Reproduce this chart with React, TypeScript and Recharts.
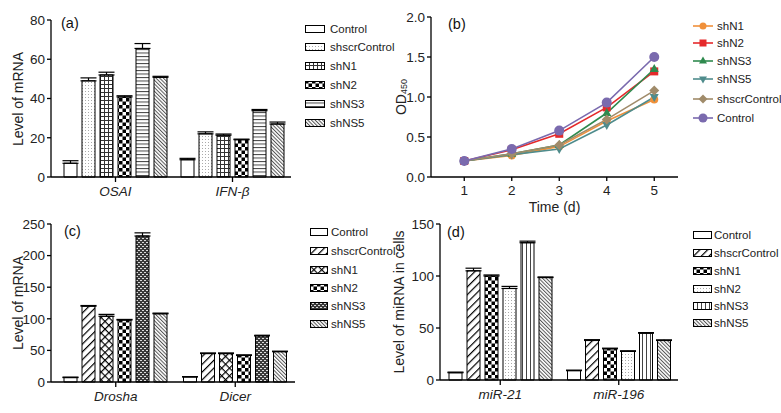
import React from 'react'
import { BarChart, Bar, LineChart, Line, XAxis, YAxis, ErrorBar } from 'recharts'

const FONT = 'Arial, "Liberation Sans", Helvetica, sans-serif'

// (a) mRNA levels
const genesA = ['OSAI', 'IFN-β']
const groupsA = ['Control', 'shscrControl', 'shN1', 'shN2', 'shNS3', 'shNS5']
const levelsA = [[7, 8.8], [49, 22], [52, 21.3], [40.8, 19], [65.5, 33.8], [50.8, 27]]
const errorsA = [[1.3, 0.7], [1.5, 1], [1.4, 0.6], [0.6, 0.3], [2.5, 0.6], [0.5, 1]]

// (b) growth curve
const days = [1, 2, 3, 4, 5]
const linesB = ['shN1', 'shN2', 'shNS3', 'shNS5', 'shscrControl', 'Control']
const odB = [
  [0.2, 0.27, 0.38, 0.7, 0.97],
  [0.2, 0.34, 0.54, 0.87, 1.32],
  [0.2, 0.29, 0.4, 0.8, 1.35],
  [0.2, 0.28, 0.35, 0.65, 1.0],
  [0.2, 0.29, 0.4, 0.72, 1.08],
  [0.2, 0.35, 0.58, 0.93, 1.5],
]

// (c) Drosha / Dicer
const genesC = ['Drosha', 'Dicer']
const groupsC = ['Control', 'shscrControl', 'shN1', 'shN2', 'shNS3', 'shNS5']
const levelsC = [[7, 8], [120, 45], [104, 45], [98, 42], [231, 73], [108, 48]]
const errorsC = [[0.8, 0.5], [1, 1], [3, 1], [1, 1], [5, 1], [1, 0.8]]

// (d) miRNA levels
const mirD = ['miR-21', 'miR-196']
const groupsD = ['Control', 'shscrControl', 'shN1', 'shN2', 'shNS3', 'shNS5']
const levelsD = [[7, 9], [105, 38], [100, 30], [88, 27.5], [132, 45], [98.5, 38]]
const errorsD = [[0.6, 0.5], [2.5, 0.8], [1, 0.6], [2, 0.6], [1.5, 0.6], [0.6, 0.6]]

const fillsA = ['#fff', 'url(#dots)', 'url(#grid)', 'url(#checker)', 'url(#hlines)', 'url(#bdiag)']
const fillsC = ['#fff', 'url(#fdiag)', 'url(#cross)', 'url(#checker)', 'url(#brick)', 'url(#bdiag)']
const fillsD = ['#fff', 'url(#fdiag)', 'url(#checker)', 'url(#dots)', 'url(#vlines)', 'url(#bdiag)']
const colorsB = ['#f0903a', '#e5292b', '#2f8a4e', '#4f8c8c', '#a08b6a', '#7a6aae']
const shapesB = ['circle', 'square', 'triangle', 'down', 'diamond', 'circle']

const toRows = (cats: string[], vals: number[][], errs: number[][]) =>
  cats.map((c, i) => {
    const row: any = { name: c }
    vals.forEach((v, k) => {
      row['v' + k] = v[i]
      row['e' + k] = [0, errs[k][i]]
    })
    return row
  })

const dataA = toRows(genesA, levelsA, errorsA)
const dataC = toRows(genesC, levelsC, errorsC)
const dataD = toRows(mirD, levelsD, errorsD)
const dataB = days.map((d, i) => {
  const row: any = { day: d }
  odB.forEach((s, k) => (row['s' + k] = s[i]))
  return row
})

function Patterns() {
  return (
    <svg width={0} height={0} style={{ position: 'absolute' }}>
      <defs>
        <pattern id="dots" width="3" height="3" patternUnits="userSpaceOnUse">
          <rect width="3" height="3" fill="#fff" />
          <rect x="1" y="1" width="1" height="1" fill="#aaa" />
        </pattern>
        <pattern id="grid" width="4" height="4" patternUnits="userSpaceOnUse">
          <rect width="4" height="4" fill="#fff" />
          <path d="M0 0.5H4M0.5 0V4" stroke="#333" strokeWidth="1" />
        </pattern>
        <pattern id="checker" width="7" height="7" patternUnits="userSpaceOnUse">
          <rect width="7" height="7" fill="#fff" />
          <rect width="3.5" height="3.5" fill="#000" />
          <rect x="3.5" y="3.5" width="3.5" height="3.5" fill="#000" />
        </pattern>
        <pattern id="hlines" width="4" height="3.5" patternUnits="userSpaceOnUse">
          <rect width="4" height="3.5" fill="#fff" />
          <path d="M0 0.5H4" stroke="#444" strokeWidth="1" />
        </pattern>
        <pattern id="vlines" width="4" height="4" patternUnits="userSpaceOnUse">
          <rect width="4" height="4" fill="#fff" />
          <path d="M0.5 0V4" stroke="#444" strokeWidth="1" />
        </pattern>
        <pattern id="bdiag" width="2.6" height="4" patternUnits="userSpaceOnUse" patternTransform="rotate(-45)">
          <rect width="2.6" height="4" fill="#fff" />
          <path d="M0.5 0V4" stroke="#555" strokeWidth="1" />
        </pattern>
        <pattern id="fdiag" width="5.5" height="6" patternUnits="userSpaceOnUse" patternTransform="rotate(45)">
          <rect width="5.5" height="6" fill="#fff" />
          <path d="M0.6 0V6" stroke="#000" strokeWidth="1.2" />
        </pattern>
        <pattern id="cross" width="5.5" height="5.5" patternUnits="userSpaceOnUse" patternTransform="rotate(45)">
          <rect width="5.5" height="5.5" fill="#fff" />
          <path d="M0.6 0V5.5M0 0.6H5.5" stroke="#000" strokeWidth="1.2" />
        </pattern>
        <pattern id="brick" width="4" height="4" patternUnits="userSpaceOnUse">
          <rect width="4" height="4" fill="#3a3a3a" />
          <rect x="0" y="0" width="2" height="1" fill="#ddd" />
          <rect x="2" y="2" width="2" height="1" fill="#ddd" />
        </pattern>
      </defs>
    </svg>
  )
}

function Marker({ cx, cy, shape, color, r = 4 }: any) {
  if (cx == null || cy == null) return null
  if (shape === 'square') return <rect x={cx - r} y={cy - r} width={r * 2} height={r * 2} fill={color} />
  if (shape === 'triangle')
    return <polygon points={`${cx},${cy - r - 1} ${cx + r + 0.5},${cy + r - 1} ${cx - r - 0.5},${cy + r - 1}`} fill={color} />
  if (shape === 'down')
    return <polygon points={`${cx},${cy + r + 1} ${cx + r + 0.5},${cy - r + 1} ${cx - r - 0.5},${cy - r + 1}`} fill={color} />
  if (shape === 'diamond')
    return <polygon points={`${cx},${cy - r - 1} ${cx + r + 1},${cy} ${cx},${cy + r + 1} ${cx - r - 1},${cy}`} fill={color} />
  return <circle cx={cx} cy={cy} r={r} fill={color} />
}

const axisStyle = { stroke: '#000', strokeWidth: 1.3 }
const tickStyle = { fontSize: 13.5, fill: '#222', fontFamily: FONT }
const catTick = { fontSize: 13.5, fill: '#222', fontFamily: FONT, fontStyle: 'italic' }

function SwatchLegend({ left, tops, names, fills, w = 20, textLeft }: any) {
  return (
    <>
      {names.map((n: string, i: number) => (
        <div key={n} style={{ position: 'absolute', left, top: tops[i] - 6, height: 12, display: 'flex', alignItems: 'center' }}>
          <svg width={w + 1} height={10} style={{ display: 'block' }}>
            <rect x={0.5} y={1.5} width={w - 1} height={7} fill={fills[i]} stroke="#000" strokeWidth={1} />
          </svg>
          <span style={{ marginLeft: textLeft - left - w - 1, fontSize: 11.5, fontFamily: FONT, color: '#222' }}>{n}</span>
        </div>
      ))}
    </>
  )
}

function PanelTag({ left, top, text }: any) {
  return <div style={{ position: 'absolute', left, top: top - 9, fontSize: 14.5, fontFamily: FONT, color: '#111' }}>{text}</div>
}

function Bars({ fills }: { fills: string[] }) {
  return (
    <>
      {fills.map((f, k) => (
        <Bar key={k} dataKey={'v' + k} fill={f} stroke="#000" strokeWidth={1} isAnimationActive={false}>
          <ErrorBar dataKey={'e' + k} width={8} stroke="#000" strokeWidth={1.2} direction="y" />
        </Bar>
      ))}
    </>
  )
}

function YTitles() {
  const items = [
    { x: 18, y: 99, t: 'Level of mRNA' },
    { x: 18, y: 303, t: 'Level of mRNA' },
    { x: 399, y: 302, t: 'Level of miRNA in cells' },
  ]
  return (
    <svg width={781} height={413} style={{ position: 'absolute', left: 0, top: 0, pointerEvents: 'none' }}>
      {items.map((it, i) => (
        <text key={i} x={it.x} y={it.y} transform={`rotate(-90 ${it.x} ${it.y})`} textAnchor="middle" dominantBaseline="central"
          fontSize={14} fill="#222" fontFamily={FONT}>
          {it.t}
        </text>
      ))}
      <text x={401} y={97} transform="rotate(-90 401 97)" textAnchor="middle" dominantBaseline="central" fontSize={14} fill="#222" fontFamily={FONT}>
        OD<tspan fontSize={9} dy={3}>450</tspan>
      </text>
    </svg>
  )
}

export default function App() {
  return (
    <div style={{ position: 'absolute', left: 0, top: 0, width: 781, height: 413, background: '#fff', fontFamily: FONT }}>
      <Patterns />

      {/* (a) */}
      <div style={{ position: 'absolute', left: 0, top: 0 }}>
        <BarChart width={300} height={205} data={dataA} margin={{ top: 20, right: 9, left: 0, bottom: 0 }} barSize={13} barGap={5}>
          <XAxis dataKey="name" height={28} padding={{ left: 6, right: 0 }} axisLine={axisStyle} tickLine={axisStyle} tickSize={5} tickMargin={4} tick={catTick} />
          <YAxis width={51} domain={[0, 80]} ticks={[0, 20, 40, 60, 80]} axisLine={axisStyle} tickLine={axisStyle} tickSize={4} tickMargin={2} tick={tickStyle} />
          {Bars({ fills: fillsA })}
        </BarChart>
      </div>
      <PanelTag left={61} top={24} text="(a)" />
      <SwatchLegend left={305} textLeft={330} tops={[29, 47, 66, 85, 104, 123]} names={groupsA} fills={fillsA} />

      {/* (b) */}
      <div style={{ position: 'absolute', left: 390, top: 0 }}>
        <LineChart width={300} height={215} data={dataB} margin={{ top: 17, right: 12, left: 0, bottom: 0 }}>
          <XAxis dataKey="day" type="number" domain={[0.3, 5.5]} ticks={days} height={38} axisLine={axisStyle} tickLine={axisStyle} tickSize={4} tickMargin={4} tick={tickStyle}
            label={{ value: 'Time (d)', position: 'insideBottom', offset: 3, fontSize: 14, fill: '#222', fontFamily: FONT }} />
          <YAxis width={41} domain={[0, 2]} ticks={[0, 0.5, 1, 1.5, 2]} tickFormatter={(v: number) => v.toFixed(1)} axisLine={axisStyle} tickLine={axisStyle} tickSize={4} tickMargin={2} tick={tickStyle} />
          {linesB.map((n, k) => (
            <Line key={n} dataKey={'s' + k} stroke={colorsB[k]} strokeWidth={1.6} isAnimationActive={false}
              dot={(p: any) => <Marker key={n + p.index} cx={p.cx} cy={p.cy} shape={shapesB[k]} color={colorsB[k]} r={n === 'Control' ? 5 : 4} />} />
          ))}
        </LineChart>
      </div>
      <PanelTag left={448} top={25} text="(b)" />
      {linesB.map((n, k) => {
        const tops = [26, 43, 61, 79, 99, 118]
        return (
          <div key={n} style={{ position: 'absolute', left: 692, top: tops[k] - 6, height: 12, display: 'flex', alignItems: 'center' }}>
            <svg width={22} height={12} style={{ display: 'block' }}>
              <line x1={1} x2={21} y1={6} y2={6} stroke={colorsB[k]} strokeWidth={1.6} />
              <Marker cx={11} cy={6} shape={shapesB[k]} color={colorsB[k]} r={n === 'Control' ? 4.5 : 3.5} />
            </svg>
            <span style={{ marginLeft: 3, fontSize: 11.5, fontFamily: FONT, color: '#222' }}>{n}</span>
          </div>
        )
      })}

      {/* (c) */}
      <div style={{ position: 'absolute', left: 0, top: 200 }}>
        <BarChart width={306} height={210} data={dataC} margin={{ top: 24, right: 11, left: 0, bottom: 0 }} barSize={13} barGap={5}>
          <XAxis dataKey="name" height={28} padding={{ left: 5, right: 0 }} axisLine={axisStyle} tickLine={axisStyle} tickSize={5} tickMargin={4} tick={catTick} />
          <YAxis width={51} domain={[0, 250]} ticks={[0, 50, 100, 150, 200, 250]} axisLine={axisStyle} tickLine={axisStyle} tickSize={4} tickMargin={2} tick={tickStyle} />
          {Bars({ fills: fillsC })}
        </BarChart>
      </div>
      <PanelTag left={64} top={232} text="(c)" />
      <SwatchLegend left={310} textLeft={331} w={18} tops={[232, 251, 270, 288, 306, 324]} names={groupsC} fills={fillsC} />

      {/* (d) */}
      <div style={{ position: 'absolute', left: 390, top: 200 }}>
        <BarChart width={300} height={208} data={dataD} margin={{ top: 24, right: 12, left: 0, bottom: 0 }} barSize={13} barGap={5}>
          <XAxis dataKey="name" height={28} padding={{ left: 1, right: 0 }} axisLine={axisStyle} tickLine={axisStyle} tickSize={5} tickMargin={4} tick={catTick} />
          <YAxis width={50} domain={[0, 150]} ticks={[0, 50, 100, 150]} axisLine={axisStyle} tickLine={axisStyle} tickSize={4} tickMargin={2} tick={tickStyle} />
          {Bars({ fills: fillsD })}
        </BarChart>
      </div>
      <PanelTag left={447} top={233} text="(d)" />
      <SwatchLegend left={693} textLeft={714} w={19} tops={[235, 253, 271, 289, 306, 323]} names={groupsD} fills={fillsD} />

      <YTitles />
    </div>
  )
}
